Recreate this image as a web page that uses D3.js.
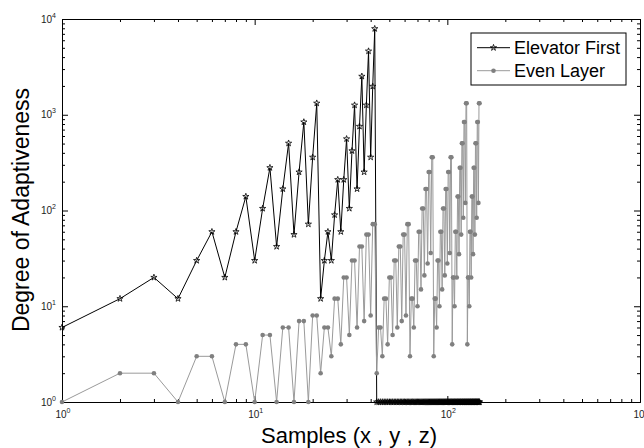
<!DOCTYPE html>
<html>
<head>
<meta charset="utf-8">
<script src="https://cdn.jsdelivr.net/npm/d3@7/dist/d3.min.js"></script>
<style>
  body { margin: 0; background: #fff; }
  svg { display: block; font-family: Arial, "Liberation Sans", sans-serif; }
</style>
</head>
<body>
<svg width="644" height="448"></svg>
<script>
// samples 1..147, one value per sample (x , y , z)
var elevatorFirst = [
  6,12,20, 12,30,60, 20,60,140, 30,105,280, 42,168,504, 56,252,840, 72,360,1320,
  12,30,60, 30,90,210, 60,210,560, 105,420,1260, 168,756,2520, 252,1260,4620, 360,1980,7920,
  1,1,1, 1,1,1, 1,1,1, 1,1,1, 1,1,1, 1,1,1, 1,1,1,
  1,1,1, 1,1,1, 1,1,1, 1,1,1, 1,1,1, 1,1,1, 1,1,1,
  1,1,1, 1,1,1, 1,1,1, 1,1,1, 1,1,1, 1,1,1, 1,1,1,
  1,1,1, 1,1,1, 1,1,1, 1,1,1, 1,1,1, 1,1,1, 1,1,1,
  1,1,1, 1,1,1, 1,1,1, 1,1,1, 1,1,1, 1,1,1, 1,1,1
];
var evenLayer = [
  1,2,2, 1,3,3, 1,4,4, 1,5,5, 1,6,6, 1,7,7, 1,8,8,
  2,6,6, 3,12,12, 4,20,20, 5,30,30, 6,42,42, 7,56,56, 8,72,72,
  2,6,6, 3,12,12, 4,20,20, 5,30,30, 6,42,42, 7,56,56, 8,72,72,
  3,12,12, 6,30,30, 10,60,60, 15,105,105, 21,168,168, 28,252,252, 36,360,360,
  3,12,12, 6,30,30, 10,60,60, 15,105,105, 21,168,168, 28,252,252, 36,360,360,
  4,20,20, 10,60,60, 20,140,140, 35,280,280, 56,504,504, 84,840,840, 120,1320,1320,
  4,20,20, 10,60,60, 20,140,140, 35,280,280, 56,504,504, 84,840,840, 120,1320,1320
];
var seriesNames = ["Elevator First", "Even Layer"];
var xExponents = [0, 1, 2, 3];
var yExponents = [0, 1, 2, 3, 4];
var xTitle = "Samples (x , y , z)";
var yTitle = "Degree of Adaptiveness";

var svg = d3.select("svg"),
    pLeft = 62, pRight = 640, pTop = 19, pBottom = 402;

var x = d3.scaleLog().domain([1, 1000]).range([pLeft, pRight]);
var y = d3.scaleLog().domain([1, 10000]).range([pBottom, pTop]);

// minor ticks 2..9 of every decade
function minorTicks(exps) {
  var out = [];
  for (var i = 0; i < exps.length - 1; i++) {
    for (var k = 2; k <= 9; k++) out.push(k * Math.pow(10, exps[i]));
  }
  return out;
}
var xMajor = xExponents.map(function(e) { return Math.pow(10, e); });
var yMajor = yExponents.map(function(e) { return Math.pow(10, e); });

// assi: ticks verso l'interno su tutti e quattro i lati
var axes = svg.append("g").attr("class", "axes");
function addAxis(gen, scale, tx, ty, vals, len) {
  var g = axes.append("g")
    .attr("transform", "translate(" + tx + "," + ty + ")")
    .call(gen(scale).tickValues(vals).tickSize(-len).tickSizeOuter(0).tickFormat(""));
  g.select(".domain").attr("stroke", "#000");
  g.selectAll(".tick line").attr("stroke", "#000");
}
addAxis(d3.axisBottom, x, 0, pBottom, minorTicks(xExponents), 3);
addAxis(d3.axisBottom, x, 0, pBottom, xMajor, 6);
addAxis(d3.axisTop, x, 0, pTop, minorTicks(xExponents), 3);
addAxis(d3.axisTop, x, 0, pTop, xMajor, 6);
addAxis(d3.axisLeft, y, pLeft, 0, minorTicks(yExponents), 3);
addAxis(d3.axisLeft, y, pLeft, 0, yMajor, 6);
addAxis(d3.axisRight, y, pRight, 0, minorTicks(yExponents), 3);
addAxis(d3.axisRight, y, pRight, 0, yMajor, 6);

// etichette 10^n
var labels = svg.append("g").attr("fill", "#222").attr("font-size", 10);
xExponents.forEach(function(e) {
  var t = labels.append("text")
    .attr("x", x(Math.pow(10, e)) + 1)
    .attr("y", 418)
    .attr("text-anchor", "middle");
  t.append("tspan").text("10");
  t.append("tspan").attr("dy", -5).attr("font-size", 7).text(e);
});
yExponents.forEach(function(e) {
  var t = labels.append("text")
    .attr("x", 56)
    .attr("y", y(Math.pow(10, e)) + 3.5)
    .attr("text-anchor", "end");
  t.append("tspan").text("10");
  t.append("tspan").attr("dy", -5).attr("font-size", 7).text(e);
});

svg.append("text")
  .attr("x", 349).attr("y", 443)
  .attr("text-anchor", "middle")
  .attr("font-size", 22)
  .text(xTitle);
svg.append("text")
  .attr("transform", "translate(29,210) rotate(-90)")
  .attr("text-anchor", "middle")
  .attr("font-size", 23)
  .text(yTitle);

// serie
var line = d3.line()
  .x(function(d, i) { return x(i + 1); })
  .y(function(d) { return y(d); });
var star = d3.symbol().type(d3.symbolStar).size(12);

var plot = svg.append("g");
plot.append("path")
  .datum(elevatorFirst)
  .attr("d", line)
  .attr("fill", "none")
  .attr("stroke", "#000")
  .attr("stroke-width", 1);
plot.selectAll(".stella")
  .data(elevatorFirst)
  .enter().append("path")
  .attr("class", "stella")
  .attr("transform", function(d, i) { return "translate(" + x(i + 1) + "," + y(d) + ")"; })
  .attr("d", star)
  .attr("fill", "none")
  .attr("stroke", "#000")
  .attr("stroke-width", 0.8);

plot.append("path")
  .datum(evenLayer)
  .attr("d", line)
  .attr("fill", "none")
  .attr("stroke", "#9a9a9a")
  .attr("stroke-width", 1);
plot.selectAll(".punto")
  .data(evenLayer)
  .enter().append("circle")
  .attr("class", "punto")
  .attr("cx", function(d, i) { return x(i + 1); })
  .attr("cy", function(d) { return y(d); })
  .attr("r", 2.3)
  .attr("fill", "#808080");

// legenda
var leg = svg.append("g");
leg.append("rect")
  .attr("x", 471).attr("y", 33)
  .attr("width", 155).attr("height", 52)
  .attr("fill", "#fff")
  .attr("stroke", "#000");
seriesNames.forEach(function(name, i) {
  var cy = 47.7 + i * 23;
  leg.append("line")
    .attr("x1", 477).attr("x2", 510)
    .attr("y1", cy).attr("y2", cy)
    .attr("stroke", i == 0 ? "#000" : "#9a9a9a");
  if (i == 0) {
    leg.append("path")
      .attr("transform", "translate(493.5," + cy + ")")
      .attr("d", star)
      .attr("fill", "none")
      .attr("stroke", "#000")
      .attr("stroke-width", 0.8);
  } else {
    leg.append("circle")
      .attr("cx", 493.5).attr("cy", cy)
      .attr("r", 2.3)
      .attr("fill", "#808080");
  }
  leg.append("text")
    .attr("x", 514).attr("y", cy + 6.3)
    .attr("font-size", 18)
    .text(name);
});
</script>
</body>
</html>
